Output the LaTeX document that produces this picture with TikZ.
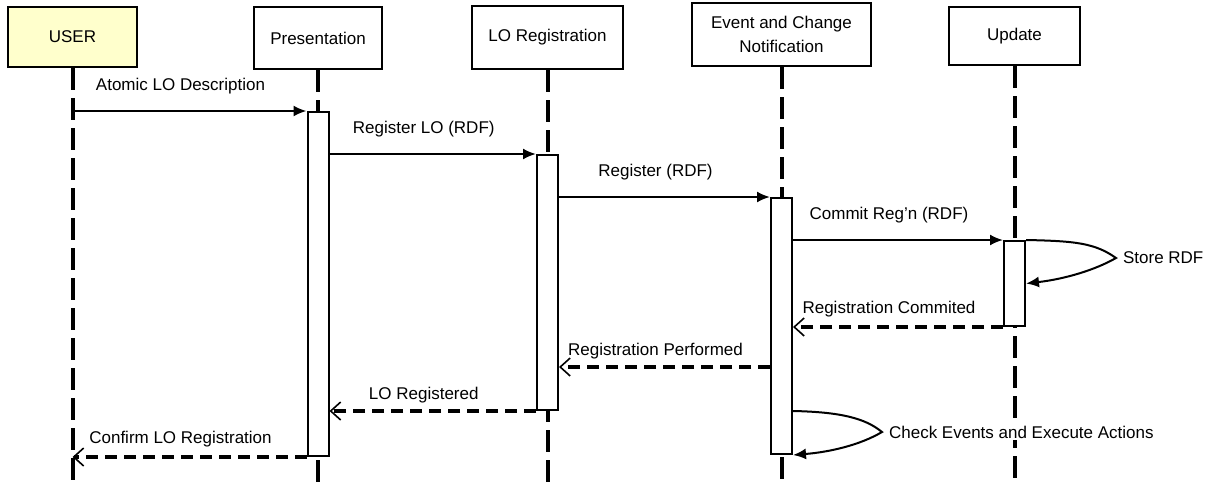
\documentclass[tikz,border=0pt]{standalone}
\usepackage{fontspec}
\setmainfont{Liberation Sans}
\usetikzlibrary{arrows.meta}
\definecolor{useryellow}{RGB}{255,255,204}

\begin{document}
\begin{tikzpicture}[x=0.5pt,y=-0.5pt,
    every node/.style={font=\fontsize{8.5}{10.5}\selectfont},
    obj/.style={draw,line width=1pt,align=center},
    lifeline/.style={line width=2pt,dash pattern=on 11pt off 4pt},
    actbar/.style={draw,fill=white,line width=1pt,minimum width=10.5pt,inner sep=0pt,anchor=north},
    msg/.style={line width=1pt,-{Latex[length=6.5pt,width=5.5pt]}},
    reply/.style={line width=1.7pt,dash pattern=on 6pt off 3.5pt,-{Straight Barb[length=5pt,width=9pt,line width=0.8pt]}},
    lbl/.style={inner sep=0pt,xshift=-4.5pt}]
      \useasboundingbox (0,0) rectangle (1211,482);

      \node[obj,fill=useryellow,minimum width=64.5pt,minimum height=30pt] (user) at (72.5,37) {USER};
      \node[obj,minimum width=64pt,minimum height=31pt] (pres) at (318,38) {Presentation};
      \node[obj,minimum width=75.5pt,minimum height=31.5pt] (lor) at (547.5,37.5) {LO Registration};
      \node[obj,minimum width=89.5pt,minimum height=31.5pt,font=\fontsize{8.5}{12}\selectfont] (ecn) at (781.5,34.5) {Event and Change\\Notification};
      \node[obj,minimum width=65.5pt,minimum height=29pt] (upd) at (1014.5,36) {Update};

      \coordinate (bottom) at (0,482);
      \foreach \o in {user,pres,lor,ecn,upd}
        \draw[lifeline] (\o.south) -- (\o.south |- bottom);

      \node[actbar,minimum height=172pt] (presbar) at (318,111) {};
      \node[actbar,minimum height=127.5pt] (lorbar) at (547.5,154) {};
      \node[actbar,minimum height=128pt] (ecnbar) at (781.5,197) {};
      \node[actbar,minimum height=42.5pt] (updbar) at (1014.5,240) {};

      \draw[msg] (user.south |- presbar.north) -- (presbar.north west)
        node[lbl,midway,above=8pt] {Atomic LO Description};
      \draw[msg] (presbar.east |- lorbar.north) -- (lorbar.north west)
        node[lbl,midway,above=8pt] {Register LO (RDF)};
      \draw[msg] (lorbar.east |- ecnbar.north) -- (ecnbar.north west)
        node[lbl,midway,above=8pt] {Register (RDF)};
      \draw[msg] (ecnbar.east |- updbar.north) -- (updbar.north west)
        node[lbl,midway,above=8pt] {Commit Reg'n (RDF)};

      % self calls
      \node[anchor=west] (storelbl) at (1116,258) {Store RDF};
      \draw[msg] (updbar.north east) .. controls (1075,241) and (1095,243) .. (storelbl.west)
        .. controls (1095,270) and (1065,279) .. (updbar.east);

      \draw[reply] (updbar.south west) -- (ecnbar.east |- updbar.south)
        node[lbl,midway,above=4pt] {Registration Commited};
      \coordinate (perfy) at (0,367);
      \draw[reply] (ecnbar.west |- perfy) -- (lorbar.east |- perfy)
        node[lbl,midway,above=3pt] {Registration Performed};
      \draw[reply] (lorbar.south west) -- (presbar.east |- lorbar.south)
        node[lbl,midway,above=3pt] {LO Registered};

      \node[anchor=west,fill=white,inner ysep=1pt] (chklbl) at (882,432) {Check Events and Execute Actions};
      \draw[msg] (ecnbar.east |- lorbar.south) .. controls (840,412) and (865,418) .. (chklbl.west)
        .. controls (860,445) and (830,452) .. (ecnbar.south east);

      \draw[reply] (presbar.south west) -- (user.south |- presbar.south)
        node[lbl,midway,above=4pt] {Confirm LO Registration};
    \end{tikzpicture}
\end{document}
